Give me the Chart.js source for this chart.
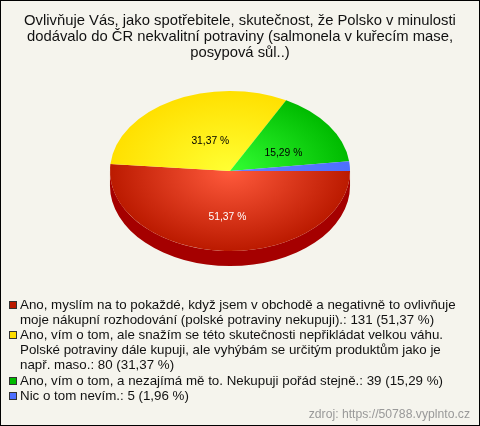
<!DOCTYPE html>
<html lang="cs">
<head>
<meta charset="utf-8">
<title>Polsko potraviny</title>
<script src="https://cdn.jsdelivr.net/npm/chart.js@4"></script>
<style>
    html, body { margin: 0; padding: 0; background: #f5f4ed; }
    #wrap { position: relative; width: 480px; height: 426px; overflow: hidden; background: #f5f4ed; outline: 1px solid #000; outline-offset: -1px; font-family: "Liberation Sans", Arial, sans-serif; }
    #chart { position: absolute; left: 0; top: 0; }
    #legend { position: absolute; left: 9px; top: 298px; margin: 0; padding: 0; list-style: none; font-size: 13.33px; line-height: 14.7px; color: #111; white-space: pre; }
    #legend li { position: relative; padding-left: 11px; margin-bottom: 1px; }
    #legend i { position: absolute; left: 0; top: 3px; width: 6px; height: 6px; border: 1px solid #333; }
    #source { position: absolute; right: 10px; top: 407px; font-size: 12.2px; line-height: 14px; color: #999; }
</style>
</head>
<body>
<div id="wrap">
    <canvas id="chart" width="480" height="426"></canvas>
    <ul id="legend"></ul>
    <div id="source">zdroj: https://50788.vyplnto.cz</div>
</div>
<script>
// --- data ---
const titleLines = [
    "Ovlivňuje Vás, jako spotřebitele, skutečnost, že Polsko v minulosti",
    "dodávalo do ČR nekvalitní potraviny (salmonela v kuřecím mase,",
    "posypová sůl..)"
];
const categories = [
    "Ano, myslím na to pokaždé, když jsem v obchodě a negativně to ovlivňuje\nmoje nákupní rozhodování (polské potraviny nekupuji).",
    "Ano, vím o tom, ale snažím se této skutečnosti nepřikládat velkou váhu.\nPolské potraviny dále kupuji, ale vyhýbám se určitým produktům jako je\nnapř. maso.",
    "Ano, vím o tom, a nezajímá mě to. Nekupuji pořád stejně.",
    "Nic o tom nevím."
];
const counts = [131, 80, 39, 5];
const percents = ["51,37", "31,37", "15,29", "1,96"];

// --- look ---
const centerColors = ['#ff5a3c', '#ffff33', '#33ff33', '#6680ff'];
const edgeColors = ['#bb1a00', '#ffe000', '#00bb00', '#4d6fff'];
const swatchColors = ['#bb1a00', '#ffdd00', '#00bb00', '#4d6fff'];
const sideColors = ['#a50000', '#b89a00', '#008000', '#2a3fb0'];
const labelColors = ['#fff', '#000', '#000', null];
const labelNudge = [[0, 6], [9, 5], [4, 5], [0, 0]];

const pieCenter = { x: 230, y: 171 };
const squash = 80 / 120;
const pieDepth = 15;

// squashes the flat pie into an ellipse and puts the dark rim under it
const tiltedPie = {
    id: 'tiltedPie',
    beforeDatasetsDraw(chart) {
        const ctx = chart.ctx;
        const arcs = chart.getDatasetMeta(0).data;
        const { x, y, outerRadius } = arcs[0];
        ctx.save();
        ctx.translate(pieCenter.x, pieCenter.y);
        ctx.scale(1, squash);
        ctx.translate(-x, -y);

        const drop = pieDepth / squash;
        arcs.forEach((arc, i) => {
            const start = Math.max(arc.startAngle, 0);
            const end = Math.min(arc.endAngle, Math.PI);
            if (end <= start) return;
            ctx.beginPath();
            ctx.arc(x, y + drop, outerRadius, start, end);
            ctx.arc(x, y, outerRadius, end, start, true);
            ctx.closePath();
            ctx.fillStyle = sideColors[i];
            ctx.fill();
        });
    },
    afterDatasetsDraw(chart) {
        const ctx = chart.ctx;
        ctx.restore();

        const arcs = chart.getDatasetMeta(0).data;
        ctx.save();
        ctx.font = '10.3px "Liberation Sans", Arial, sans-serif';
        ctx.textAlign = 'center';
        ctx.textBaseline = 'middle';
        arcs.forEach((arc, i) => {
            if (!labelColors[i]) return;
            const pos = arc.tooltipPosition();
            const px = pieCenter.x + (pos.x - arc.x) + labelNudge[i][0];
            const py = pieCenter.y + (pos.y - arc.y) * squash + labelNudge[i][1];
            ctx.fillStyle = labelColors[i];
            ctx.fillText(percents[i] + ' %', px, py);
        });
        ctx.restore();
    }
};

function sliceGradient(ctx) {
    const area = ctx.chart.chartArea;
    if (!area) return edgeColors[ctx.dataIndex];
    const radius = area.height / 2;
    const cx = (area.left + area.right) / 2;
    const cy = (area.top + area.bottom) / 2;
    const grad = ctx.chart.ctx.createRadialGradient(cx, cy, 0, cx, cy, radius);
    grad.addColorStop(0, centerColors[ctx.dataIndex]);
    grad.addColorStop(1, edgeColors[ctx.dataIndex]);
    return grad;
}

function renderLegend() {
    const legend = document.getElementById('legend');
    categories.forEach((cat, i) => {
        const li = document.createElement('li');
        const swatch = document.createElement('i');
        swatch.style.background = swatchColors[i];
        li.appendChild(swatch);
        li.appendChild(document.createTextNode(`${cat}: ${counts[i]} (${percents[i]} %)`));
        legend.appendChild(li);
    });
}

renderLegend();

new Chart(document.getElementById('chart'), {
    type: 'pie',
    data: {
        labels: categories,
        datasets: [{ data: counts, backgroundColor: sliceGradient, borderWidth: 0, clip: false }]
    },
    options: {
        responsive: false,
        animation: false,
        rotation: 90,
        layout: { padding: { top: 0, bottom: 117, left: 0, right: 0 } },
        plugins: {
            legend: { display: false },
            tooltip: { enabled: false },
            title: {
                display: true,
                text: titleLines,
                color: '#111',
                font: { family: '"Liberation Sans", Arial, sans-serif', size: 14.8, weight: 'normal', lineHeight: 1.08 },
                padding: { top: 13, bottom: 8 }
            }
        }
    },
    plugins: [tiltedPie]
});
</script>
</body>
</html>
